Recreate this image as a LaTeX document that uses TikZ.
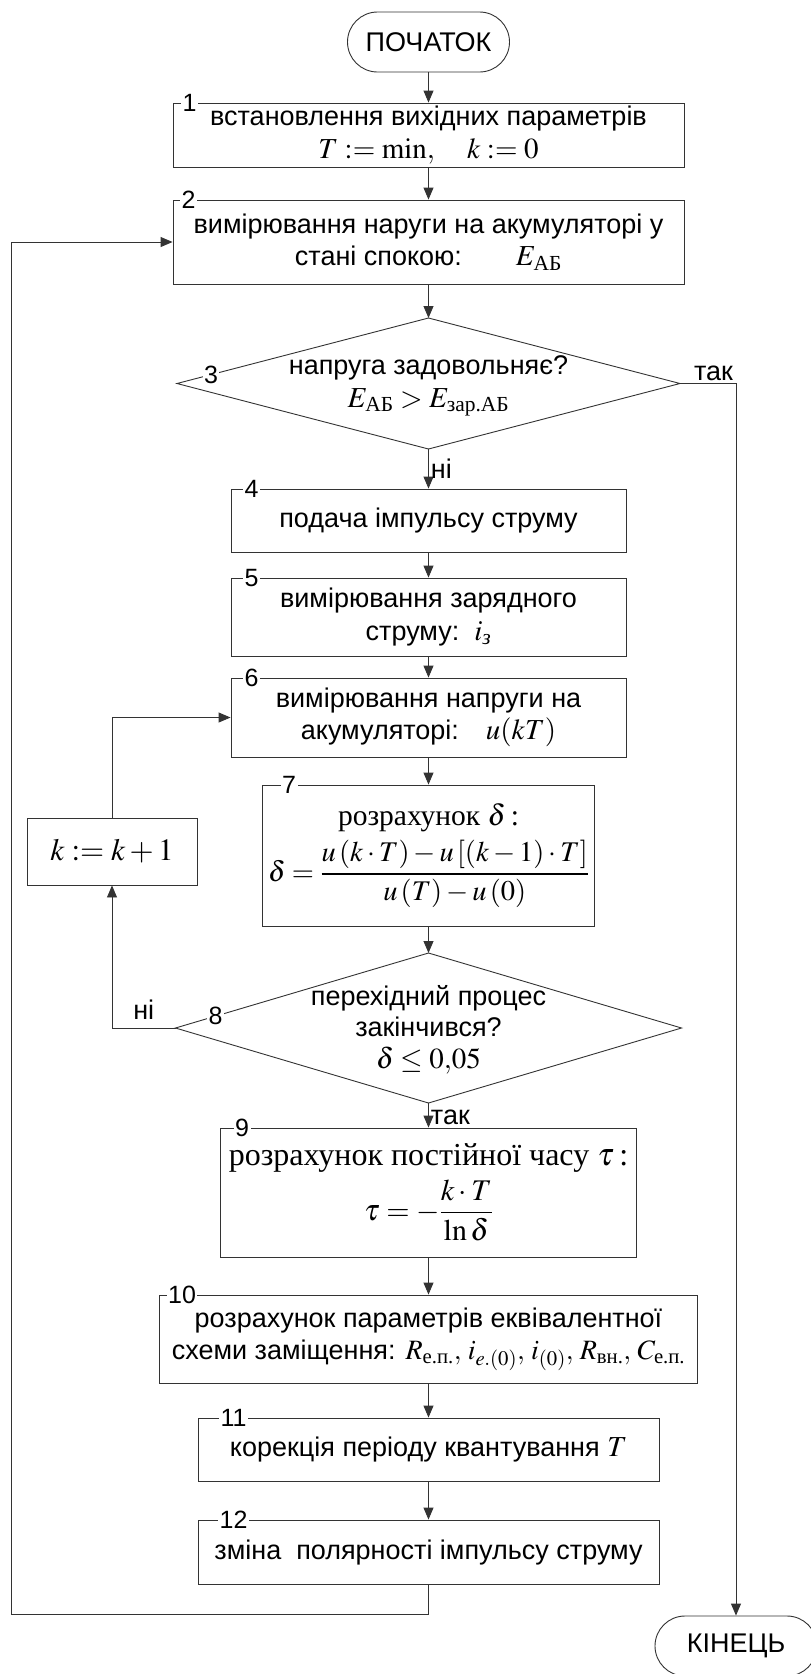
\documentclass[tikz,border=0pt]{standalone}
\usepackage{amsmath}
\usepackage{mathptmx}
\usepackage[no-math]{fontspec}
\setmainfont{Liberation Sans}
\newfontfamily\tnr{Liberation Serif}
\usetikzlibrary{shapes.geometric,arrows.meta,calc}
\newcommand\fsz[2]{\fontsize{#1}{#2}\selectfont}
\newcommand\mth[1]{{\fsz{29}{32}$#1$}}
\begin{document}
\begin{tikzpicture}[x=1pt,y=-1pt,
  every node/.style={font=\fsz{27}{32.5}, text=black},
  ln/.style={draw=black!80, line width=0.9pt},
  box/.style={ln, rectangle, inner sep=0pt, align=center},
  term/.style={ln, rectangle, rounded corners=30pt, minimum width=162pt, minimum height=60pt, inner sep=0pt},
  dia/.style={ln, diamond, inner sep=0pt, outer sep=0pt},
  arr/.style={draw=black!80, line width=0.9pt, -{Triangle[length=12pt,width=10pt]}},
  numlbl/.style={fill=white, inner sep=1.5pt, font=\fsz{25}{30}},
  lbl/.style={inner sep=2pt}
]
\fill[white] (0,0) rectangle (811,1674);
\useasboundingbox (0,0) rectangle (811,1674);

% terminals
\node[term] (start) at (428.5,42) {ПОЧАТОК};
\node[term] (end) at (736,1646) {КІНЕЦЬ};

% boxes
\node[box, minimum width=511pt, minimum height=64pt] (b1) at (428.5,135)
  {встановлення вихідних параметрів\\ \mth{T:=\min,\quad k:=0}};
\node[box, minimum width=511pt, minimum height=84pt] (b2) at (428.5,242)
  {вимірювання наруги на акумуляторі у\\ стані спокою:\qquad \mth{E_{\text{\tnr АБ}}}};

\node[dia, minimum width=503pt, minimum height=131pt] (d3) at (428.5,383.5) {};
\node[align=center, inner sep=0pt] (t3) at (428.5,386)
  {напруга задовольняє?\\ \mth{E_{\text{\tnr АБ}}>E_{\text{\tnr зар.АБ}}}};

\node[box, minimum width=395pt, minimum height=63pt] (b4) at (428.5,520.5)
  {подача імпульсу струму};
\node[box, minimum width=395pt, minimum height=78pt] (b5) at (428.5,617)
  {вимірювання зарядного\\ струму:\ \ \mth{i_{\text{\tnr\itshape з}}}};
\node[box, minimum width=395pt, minimum height=79pt] (b6) at (428.5,717.5)
  {вимірювання напруги на\\ акумуляторі:\quad \mth{u(kT)}};
\node[box, minimum width=332pt, minimum height=141pt] (b7) at (428.5,855.5)
  {{\tnr\fsz{29.5}{34}розрахунок $\delta$\,:}\\[8pt]
   {\fsz{28.5}{34}$\displaystyle\delta=\frac{u\left(k\cdot T\right)-u\left[\left(k-1\right)\cdot T\right]}{u\left(T\right)-u\left(0\right)}$}};
\node[box, minimum width=170pt, minimum height=67pt] (kb) at (112,851.5)
  {{\fsz{31}{34}$k:=k+1$}};

\node[dia, minimum width=506pt, minimum height=150pt] (d8) at (428.5,1028) {};
\node[align=center, inner sep=0pt, font=\fsz{27}{30.5}] (t8) at (428.5,1030)
  {перехідний процес\\ закінчився?\\[2pt] \mth{\delta\le 0{,}05}};

\node[box, minimum width=416pt, minimum height=129pt] (b9) at (428.5,1192.5)
  {{\tnr\fsz{32}{34}розрахунок постійної часу $\tau$\,:}\\[6pt]
   {\fsz{30}{34}$\displaystyle\tau=-\frac{k\cdot T}{\ln\delta}$}};
\node[box, minimum width=538pt, minimum height=88pt] (b10) at (428.5,1339)
  {розрахунок параметрів еквівалентної\\ схеми заміщення: {\fsz{28}{32}$R_{\text{\tnr е.п.}},\, i_{e.(0)},\, i_{(0)},\, R_{\text{\tnr вн.}},\, C_{\text{\tnr е.п.}}$}};
\node[box, minimum width=461pt, minimum height=63pt] (b11) at (428.5,1449.5)
  {корекція періоду квантування \mth{T}};
\node[box, minimum width=461pt, minimum height=64pt] (b12) at (428.5,1552)
  {зміна\ \ полярності імпульсу струму};

% number labels
\node[numlbl, xshift=17pt] at (b1.north west) {1};
\node[numlbl, xshift=16pt] at (b2.north west) {2};
\node[numlbl] at ($(d3.west)!0.135!(d3.north)$) {3};
\node[numlbl, xshift=21pt] at (b4.north west) {4};
\node[numlbl, xshift=21pt] at (b5.north west) {5};
\node[numlbl, xshift=21pt] at (b6.north west) {6};
\node[numlbl, xshift=27pt] at (b7.north west) {7};
\node[numlbl] at ($(d8.west)!0.158!(d8.north)$) {8};
\node[numlbl, xshift=22pt] at (b9.north west) {9};
\node[numlbl, xshift=23pt] at (b10.north west) {10};
\node[numlbl, xshift=36pt] at (b11.north west) {11};
\node[numlbl, xshift=36pt] at (b12.north west) {12};

% helper coordinates
\coordinate (c1) at (428.5,1614);
\coordinate (c2) at (11,1614);

% connectors
\draw[arr] (start.south) -- (b1.north);
\draw[arr] (b1.south) -- (b2.north);
\draw[arr] (b2.south) -- (d3.north);
\draw[arr] (d3.south) -- node[lbl, right, pos=0.5] {ні} (b4.north);
\draw[arr] (d3.east) -- node[lbl, above, pos=0.6] {так} (d3.east -| end.north) -- (end.north);
\draw[arr] (b4.south) -- (b5.north);
\draw[arr] (b5.south) -- (b6.north);
\draw[arr] (b6.south) -- (b7.north);
\draw[arr] (b7.south) -- (d8.north);
\draw[arr] (d8.west) -- node[lbl, above, pos=0.5, yshift=6pt] {ні} (d8.west -| kb.south) -- (kb.south);
\draw[arr] (kb.north) |- (b6.west);
\draw[arr] (d8.south) -- node[lbl, right, pos=0.6] {так} (b9.north);
\draw[arr] (b9.south) -- (b10.north);
\draw[arr] (b10.south) -- (b11.north);
\draw[arr] (b11.south) -- (b12.north);
\draw[arr] (b12.south) -- (c1) -- (c2) |- (b2.west);
\end{tikzpicture}
\end{document}
